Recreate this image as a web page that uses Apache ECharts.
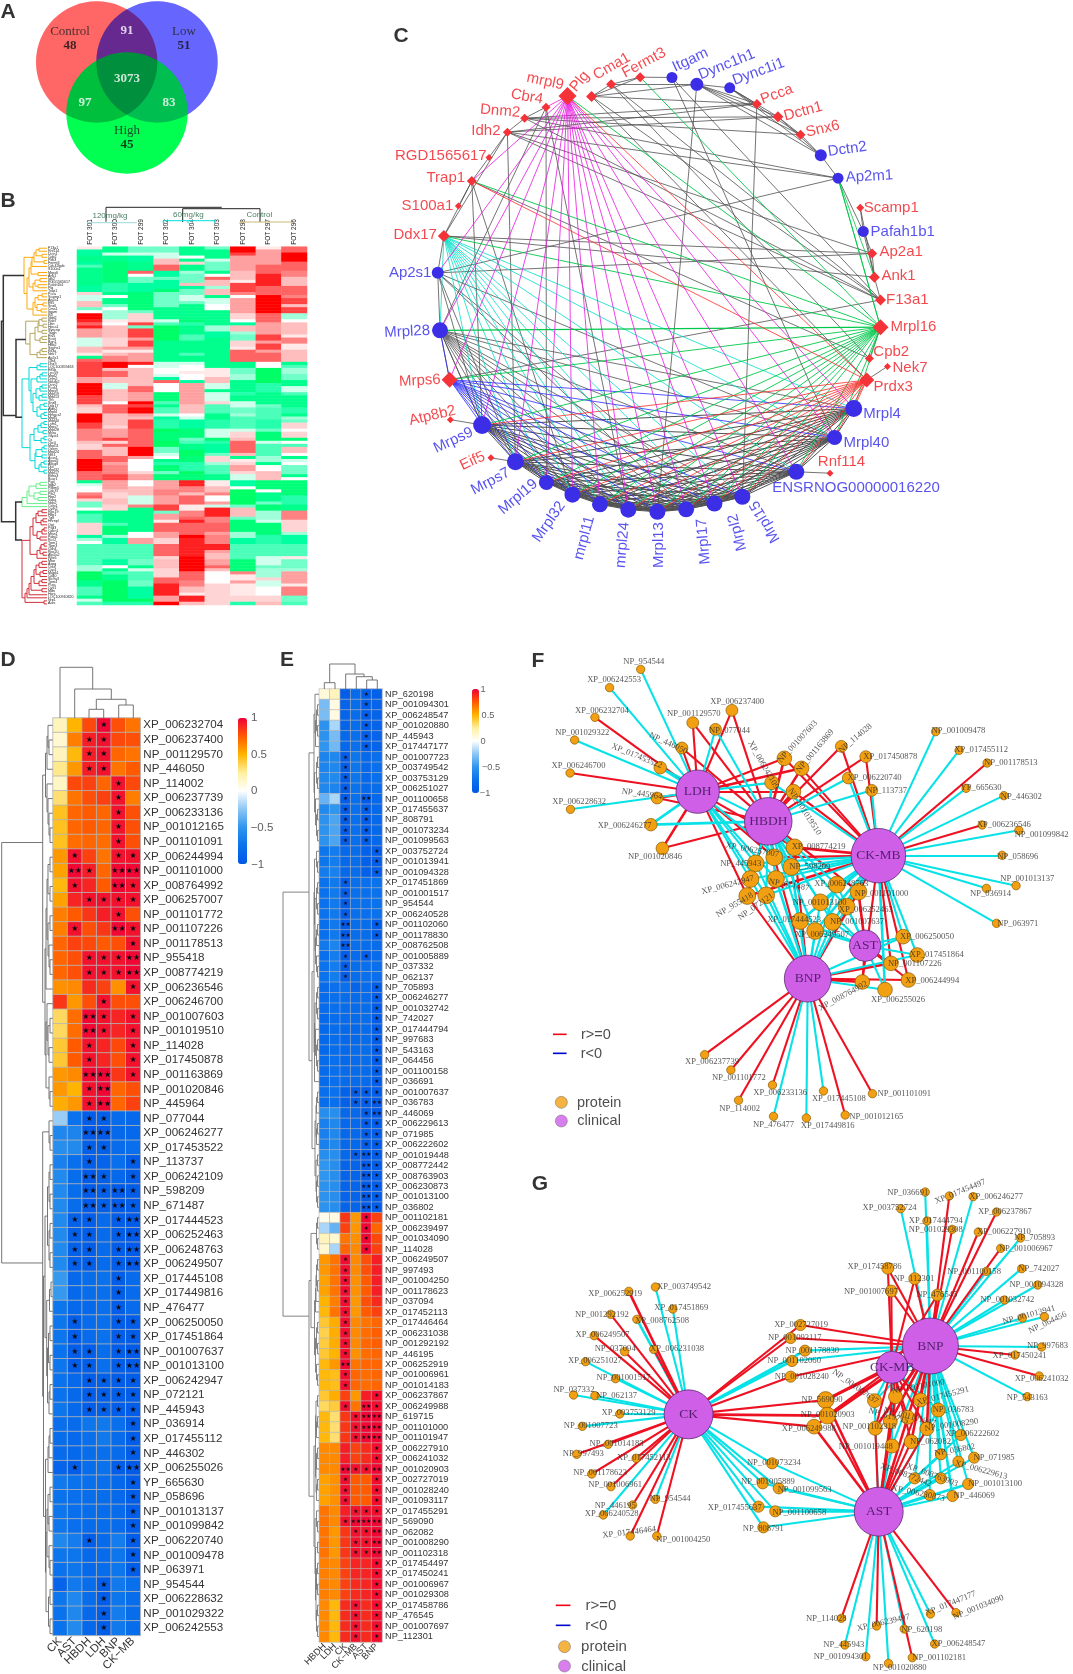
<!DOCTYPE html>
<html><head><meta charset="utf-8">
<script src="https://cdn.jsdelivr.net/npm/echarts@6/dist/echarts.min.js"></script>
<style>html,body{margin:0;padding:0;background:#fff}#c{width:1073px;height:1674px}</style></head>
<body><div id="c"></div>
<script>
/* ---------- PANEL A: Venn ---------- */
const vennNames=['Control','Low','High'];
const vennX=[96.7,157,127], vennY=[62,62,113], vennDiam=[121.4,121.4,121.4];
const vennBase=[['#ff8888',1],['#0000ff',.467],['#00ff50',1]];
const vennTint=[['#ffbfbf',0],['#bfbfff',1]];
const vennText=[['Control',70,32,13,'#222','normal'],['48',70,46,13,'#111','bold'],['91',127,31,13,'#fff','bold'],['Low',184,32,13,'#222','normal'],['51',184,46,13,'#111','bold'],['3073',127,79,13,'#fff','bold'],['97',85,103,13,'#fff','bold'],['83',169,103,13,'#fff','bold'],['High',127,131,13,'#222','normal'],['45',127,145,13,'#111','bold']];

/* ---------- PANEL B: expression heatmap, each column as [endRow,value] runs ---------- */
const bColumns=['FOT 301','FOT 300','FOT 299','FOT 302','FOT 304','FOT 303','FOT 298','FOT 297','FOT 296'];
const bGenes=['F13a1','Rnf114','Dctn1','Cpb2','Pdk3','Fermt3','Cdc42bpb','S100a1','Mrps6','Ank1','Idh2','RGD1565617','Pafah1b1','Plg','Trap1','Pcca','Scamp1','Ap2a1','Eif5','Snx6','Cma1','Itgam','Ik3','Ndd2','Rab7','Dbn','Hpca1','Syncrip','Tagln','Etv5','Ecsit','Bgn1','Hbb2','Sephs1','Kif3a','Nek7','Ap2s1','Cfb4','Dhx9','LOC100359463','Eif5b','Lrrc59','Mrpl2','Dnm2','Ndufb2','Dctn2','Pcsk1','Mrps9','Mrpl19','Mrpl13','Tfrc','Snx8','Ddx17','Aldh2','Mrpl4','Hmgcs2','Mrpl5','Mrpl40','Lsm1','Mrps7','Mrpl28','Msra','Glyat1','Cs','Cbr4','Mrpl11','Oxsm','Mrpl24','Nfs1','Acss1','Atpaf2','Abcg8','Dld','Mrpl32','Mrpl17','Elmo3','Bcar1','Pgd','Itgb2','Pdlim5','Cdc37','Ptk2','Fbp2','Vapa','Nop2','Csrp1','Cyth2','Rgs19','Fbp1','Tgif','Hnrnpl','Ogt','Psd3','Cdkn1','Mtss1','Pdrp2','Rcc2','Tpm1','Tpm3','Cdh4','Rps20','Atp2a2','Rps6','Mtor','Aspg','Ctsd','Cap1','Mapk1','Cd40','Slc9a3','Tpm4','Pura','Cytl1','Mdn','Hars','LOC100910820','Nrp1','Aars'];
const bC1=[[1,1],[3,-6],[5,-7],[6,-6],[7,-4],[13,-7],[15,-6],[16,2],[18,-1],[20,3],[21,-3],[22,0],[24,9],[25,8],[26,6],[27,8],[30,4],[33,-1],[35,3],[36,1],[37,-7],[38,6],[43,7],[45,4],[49,9],[52,7],[53,3],[55,2],[58,9],[60,7],[64,5],[65,3],[67,2],[70,6],[74,9],[77,6],[78,-7],[79,-1],[81,0],[82,5],[83,6],[84,2],[86,-3],[87,0],[88,-7],[91,-4],[95,2],[96,-6],[97,-2],[98,0],[105,-4],[107,-2],[110,-9],[112,-7],[115,-4],[116,-7],[117,-1],[118,-4]];
const bC2=[[2,-7],[3,-1],[5,-7],[12,-8],[15,-5],[16,-7],[17,0],[19,-7],[20,-3],[21,0],[24,-2],[25,1],[26,0],[30,3],[33,2],[34,4],[35,1],[36,3],[38,5],[40,9],[41,3],[43,6],[45,3],[47,-1],[49,3],[51,3],[52,0],[55,6],[56,3],[59,3],[60,2],[63,4],[64,7],[65,2],[66,6],[69,3],[71,6],[72,4],[75,5],[77,7],[80,4],[81,3],[83,2],[85,3],[87,2],[91,-7],[92,-4],[95,-8],[96,-2],[98,-6],[103,-4],[105,-6],[106,0],[107,-7],[108,-4],[110,-7],[117,-9],[118,-5]];
const bC3=[[2,-3],[3,-1],[5,-6],[8,-7],[9,6],[10,0],[12,-3],[15,-6],[21,-8],[22,-3],[25,2],[26,7],[27,-3],[30,7],[31,4],[33,7],[34,4],[35,1],[38,4],[39,8],[40,0],[44,3],[46,3],[48,6],[51,4],[52,9],[53,7],[55,9],[56,4],[57,3],[60,7],[66,6],[69,9],[70,4],[74,0],[75,2],[77,4],[79,0],[82,3],[85,-1],[86,5],[94,-7],[96,0],[98,4],[103,-4],[105,-3],[106,-7],[107,-1],[110,-4],[112,-3],[116,-6],[117,-9],[118,-5]];
const bC4=[[2,-3],[4,-1],[6,3],[8,6],[10,-6],[11,-3],[14,-6],[15,-8],[18,-3],[20,-3],[24,-7],[25,-1],[26,-4],[31,-9],[38,-7],[40,-1],[42,0],[43,-1],[44,-6],[45,6],[48,0],[51,-8],[52,-4],[53,-7],[55,-4],[56,-1],[57,-6],[60,-5],[61,-9],[64,-8],[66,-9],[68,-3],[69,-1],[70,0],[71,-7],[72,-5],[74,-8],[75,-3],[77,-8],[80,4],[82,5],[85,4],[87,7],[88,-3],[90,4],[91,1],[94,6],[96,4],[98,2],[102,6],[103,2],[106,3],[109,2],[111,6],[115,8],[117,4],[118,9]];
const bC5=[[3,-7],[4,0],[5,-7],[6,2],[8,-7],[9,-2],[12,-3],[13,3],[14,-6],[16,-3],[18,-1],[19,-3],[24,-7],[25,-8],[26,-5],[29,-7],[31,-4],[35,-7],[36,-4],[38,-7],[39,-1],[41,0],[42,1],[44,0],[45,-6],[52,4],[55,3],[56,0],[57,-1],[60,-6],[63,-8],[64,-3],[65,-4],[67,-7],[69,-9],[71,-8],[74,-5],[75,-9],[77,-8],[79,8],[81,5],[82,3],[85,6],[87,1],[89,5],[90,6],[91,8],[95,6],[96,9],[102,8],[107,9],[110,6],[112,5],[114,3],[115,1],[117,8],[118,3]];
const bC6=[[1,-3],[4,-7],[5,-1],[8,-3],[9,-7],[10,0],[11,6],[13,3],[14,-2],[16,3],[17,-7],[19,-1],[21,0],[26,-7],[28,-2],[30,-6],[40,-7],[43,1],[45,3],[47,-1],[48,-7],[51,-1],[52,2],[55,-4],[57,-7],[60,-5],[63,-1],[64,-8],[65,-5],[68,-6],[69,-3],[71,2],[72,-2],[75,-4],[77,-7],[79,1],[81,3],[82,5],[84,0],[85,4],[86,-1],[89,8],[91,5],[94,6],[95,4],[98,5],[100,8],[101,4],[103,3],[105,4],[106,6],[107,3],[111,0],[118,2]];
const bC7=[[2,9],[3,7],[8,4],[11,3],[12,1],[15,7],[16,5],[17,0],[22,4],[24,2],[25,0],[26,-6],[28,3],[29,-2],[31,-3],[33,2],[34,1],[38,6],[40,-7],[42,-3],[44,-2],[48,-7],[49,-5],[51,-7],[53,-1],[55,-3],[56,-2],[60,-4],[61,-1],[63,2],[64,3],[68,6],[69,3],[70,-7],[71,1],[72,2],[74,4],[75,2],[77,-1],[79,-6],[80,0],[85,-9],[86,-3],[89,3],[90,-3],[94,-8],[96,-2],[98,-6],[103,-4],[107,-8],[108,5],[110,1],[111,4],[115,1],[117,2],[118,-5]];
const bC8=[[1,1],[6,4],[9,6],[13,8],[16,6],[22,9],[25,6],[29,4],[31,7],[32,4],[34,7],[35,4],[38,6],[40,0],[45,-9],[48,-5],[52,-7],[53,-3],[57,-4],[60,-5],[61,-3],[64,-8],[65,-1],[69,-4],[71,-2],[72,-7],[74,0],[77,3],[80,-8],[81,0],[84,-7],[85,-3],[87,-8],[90,-2],[91,-1],[95,-8],[98,-5],[102,-4],[105,-1],[106,-3],[109,-2],[110,2],[112,-1],[115,0],[117,2],[118,3]];
const bC9=[[2,6],[5,9],[8,6],[10,5],[13,3],[16,6],[17,5],[19,7],[20,3],[22,7],[24,-2],[25,0],[29,3],[30,1],[32,5],[34,1],[38,3],[39,-7],[40,-4],[42,-2],[44,-3],[46,-7],[48,-1],[49,-4],[53,-7],[55,-5],[56,-7],[57,-2],[58,-3],[60,2],[61,0],[63,2],[64,-8],[65,0],[66,-4],[68,3],[69,0],[70,-7],[71,-1],[72,0],[75,-3],[76,-7],[77,0],[82,-8],[85,-5],[87,-7],[90,5],[91,2],[94,2],[95,-2],[98,-6],[102,-4],[103,1],[106,-3],[107,-2],[111,4],[112,1],[115,5],[117,-3],[118,-4]];
const bRuns=[bC1,bC2,bC3,bC4,bC5,bC6,bC7,bC8,bC9];
const bGroupText=[['120mg/kg',110,215.7],['60mg/kg',188.3,214.3],['Control',259.3,215]];

/* ---------- PANEL D ---------- */
const dCols=['CK','AST','HBDH','LDH','BNP','CK\u2212MB'];
const dRows=['XP_006232704','XP_006237400','NP_001129570','NP_446050','NP_114002','XP_006237739','XP_006233136','NP_001012165','NP_001101091','XP_006244994','NP_001101000','XP_008764992','XP_006257007','NP_001101772','NP_001107226','NP_001178513','NP_955418','XP_008774219','XP_006236546','XP_006246700','NP_001007603','NP_001019510','NP_114028','XP_017450878','NP_001163869','NP_001020846','NP_445964','NP_077044','XP_006246277','XP_017453522','NP_113737','XP_006242109','NP_598209','NP_671487','XP_017444523','XP_006252463','XP_006248763','XP_006249507','XP_017445108','XP_017449816','NP_476477','XP_006250050','XP_017451864','NP_001007637','NP_001013100','XP_006242947','NP_072121','NP_445943','NP_036914','XP_017455112','NP_446302','XP_006255026','YP_665630','NP_058696','NP_001013137','NP_001099842','XP_006220740','NP_001009478','NP_063971','NP_954544','XP_006228632','NP_001029322','XP_006242553'];
const dValues=[[18,50,80,98,78,68],[12,65,92,95,80,78],[18,48,92,95,72,68],[28,58,92,95,68,75],[15,80,82,72,95,80],[32,68,78,82,95,65],[45,72,75,72,95,78],[45,72,75,72,95,78],[45,70,72,70,95,78],[58,95,82,68,95,95],[55,98,92,72,98,98],[48,95,90,75,98,95],[55,90,95,95,95,95],[65,75,85,92,95,78],[65,95,78,85,98,95],[72,82,80,75,78,95],[72,78,95,95,95,98],[72,78,95,95,95,98],[60,62,88,82,60,95],[85,58,78,95,78,78],[35,70,98,95,90,95],[35,70,98,95,90,95],[42,75,95,90,80,95],[42,75,95,90,78,95],[58,62,98,98,85,95],[58,50,95,98,72,78],[52,58,95,98,72,82],
[-22,-75,-95,-92,-82,-85],[-60,-62,-98,-98,-85,-85],[-55,-58,-92,-92,-82,-78],[-65,-78,-95,-88,-78,-95],[-58,-80,-98,-92,-85,-95],[-58,-80,-98,-92,-98,-95],[-58,-80,-98,-92,-98,-95],[-58,-92,-95,-82,-95,-98],[-58,-92,-95,-82,-95,-98],[-58,-92,-95,-82,-95,-98],[-58,-92,-95,-82,-95,-98],[-48,-85,-80,-75,-95,-82],[-48,-85,-80,-78,-95,-82],[-72,-85,-85,-78,-95,-82],[-72,-95,-82,-78,-95,-95],[-72,-95,-82,-75,-95,-95],[-75,-95,-95,-80,-95,-98],[-72,-95,-95,-78,-95,-98],[-75,-85,-95,-92,-95,-95],[-75,-85,-95,-92,-95,-95],[-72,-85,-95,-92,-95,-95],[-78,-82,-72,-70,-78,-95],[-80,-85,-78,-70,-82,-95],[-82,-85,-80,-78,-82,-95],[-88,-95,-80,-75,-95,-98],[-70,-75,-78,-78,-85,-95],[-75,-78,-80,-80,-85,-95],[-72,-78,-80,-80,-82,-95],[-72,-78,-82,-80,-82,-95],[-60,-68,-95,-82,-68,-95],[-72,-72,-85,-82,-72,-95],[-75,-72,-85,-80,-72,-95],[-88,-70,-80,-95,-70,-78],[-72,-60,-80,-95,-72,-80],[-75,-60,-85,-95,-68,-80],[-75,-58,-85,-95,-70,-80]];
const dStars=['000100','001100','001100','001100','000010','000010','000010','000010','000010','010011','021022','010021','001111','000010','010021','000001','001112','001112','000001','000100','002101','002101','001001','001001','002201','001200','001200','001100','002200','001100','001001','002101','002121','002121','011012','011012','011012','011012','000010','000010','000010','010011','010011','011012','011012','001111','001111','001111','000001','000001','000001','010012','000001','000001','000001','000001','001001','000001','000001','000100','000100','000100','000100'];
const dColorbarText=[['1',254.3,718.3],['0.5',259,755],['0',254.3,791],['\u22120.5',262,828.3],['\u22121',257.7,865]];

/* ---------- PANEL E ---------- */
const eCols=['HBDH','LDH','CK','CK\u2212MB','AST','BNP'];
const eRows=['NP_620198','NP_001094301','XP_006248547','NP_001020880','NP_445943','XP_017447177','NP_001007723','XP_003749542','XP_003753129','XP_006251027','NP_001100658','XP_017455637','NP_808791','NP_001073234','NP_001099563','XP_003752724','NP_001013941','NP_001094328','XP_017451869','NP_001001517','NP_954544','XP_006240528','NP_001102060','NP_001178830','XP_008762508','NP_001005889','NP_037332','NP_062137','NP_705893','XP_006246277','NP_001032742','NP_742027','XP_017444794','NP_997683','NP_543163','NP_064456','NP_001100158','NP_036691','NP_001007637','NP_036783','NP_446069','XP_006229613','NP_071985','XP_006222602','NP_001019448','XP_008772442','XP_008763903','XP_006230873','NP_001013100','NP_036802','NP_001102181','XP_006239497','NP_001034090','NP_114028','XP_006249507','NP_997493','NP_001004250','NP_001178623','NP_037094','XP_017452113','XP_017446464','XP_006231038','NP_001292192','NP_446195','XP_006252919','NP_001006961','NP_001014183','XP_006237867','XP_006249988','NP_619715','NP_001101000','NP_001101947','XP_006227910','XP_006241032','NP_001020903','XP_002727019','NP_001028240','NP_001093117','XP_017455291','NP_569090','NP_062082','NP_001008290','NP_001102318','XP_017454497','XP_017450241','NP_001006967','NP_001029308','XP_017458786','NP_476545','NP_001007697','NP_112301'];
const eValues=[[10,18,-95,-82,-95,-92],[-30,8,-88,-80,-95,-88],[-30,8,-88,-80,-95,-88],[-52,-18,-88,-80,-95,-88],[-52,-30,-85,-78,-95,-88],[-50,-32,-85,-78,-95,-88],[-62,-60,-95,-72,-85,-78],[-62,-60,-95,-72,-85,-78],[-60,-58,-95,-72,-85,-78],[-60,-62,-95,-75,-85,-80],[-35,-18,-95,-78,-98,-85],[-58,-50,-95,-78,-95,-85],[-52,-42,-95,-78,-95,-85],[-52,-42,-95,-78,-95,-85],[-52,-42,-95,-78,-95,-85],[-72,-68,-85,-80,-92,-95],[-72,-68,-85,-80,-92,-95],[-68,-65,-85,-80,-92,-95],[-75,-70,-95,-78,-78,-75],[-75,-70,-95,-78,-78,-75],[-75,-70,-95,-78,-78,-75],[-75,-70,-95,-78,-78,-75],[-78,-70,-98,-80,-80,-95],[-78,-70,-98,-80,-80,-95],[-70,-62,-98,-78,-80,-80],[-78,-68,-95,-82,-95,-82],[-75,-68,-95,-80,-78,-78],[-75,-68,-95,-80,-78,-78],[-82,-78,-78,-88,-82,-95],[-82,-78,-80,-82,-82,-95],[-82,-78,-80,-82,-80,-95],[-84,-80,-82,-82,-80,-95],[-84,-80,-85,-85,-82,-95],[-84,-80,-85,-85,-82,-95],[-84,-80,-85,-82,-80,-95],[-82,-78,-85,-82,-80,-95],[-82,-78,-82,-82,-82,-95],[-82,-78,-82,-82,-82,-95],[-78,-75,-90,-95,-95,-95],[-80,-78,-92,-95,-95,-98],[-55,-55,-85,-85,-95,-98],[-65,-60,-85,-85,-95,-95],[-65,-60,-85,-85,-95,-95],[-65,-60,-85,-85,-95,-95],[-55,-55,-85,-95,-98,-95],[-50,-55,-88,-88,-98,-95],[-50,-55,-88,-88,-98,-95],[-52,-55,-88,-88,-98,-95],[-52,-55,-88,-88,-98,-95],[-52,-55,-88,-88,-98,-95],
[5,8,85,58,98,82],[-18,-35,82,58,98,72],[18,12,68,60,98,80],[12,-18,72,62,98,82],[58,68,96,62,78,92],[58,68,96,62,78,92],[55,68,96,60,75,92],[55,68,96,60,75,92],[50,65,96,58,78,88],[48,68,96,58,75,82],[42,52,96,62,68,72],[38,52,96,62,70,74],[40,52,96,62,72,74],[42,50,96,60,70,72],[48,58,98,68,72,72],[48,46,96,72,70,72],[48,46,96,72,70,72],[42,52,82,58,92,96],[35,40,96,68,98,96],[48,32,85,95,98,98],[48,32,85,95,98,98],[48,32,85,95,98,98],[62,62,92,82,88,96],[62,62,92,82,88,96],[62,62,98,95,95,98],[55,60,96,75,75,96],[55,60,96,75,75,96],[55,60,96,75,75,96],[68,62,92,95,95,96],[68,62,95,98,98,98],[68,58,85,95,95,98],[68,58,85,95,95,98],[68,58,85,95,95,98],[65,62,82,90,90,96],[65,62,82,90,90,96],[65,62,82,88,90,96],[65,62,82,88,90,96],[62,48,88,95,88,96],[62,48,88,95,88,96],[62,48,88,95,88,96],[62,48,88,95,88,96]];
const eStars=['000010','000010','000010','000010','000010','000010','001000','001000','001000','001000','001020','001010','001010','001010','001010','000001','000001','000001','001000','001000','001000','001000','002001','002001','002000','001010','001000','001000','000001','000001','000001','000001','000001','000001','000001','000001','000001','000001','000111','000112','000012','000011','000011','000011','000121','000021','000021','000021','000021','000021','000010','000010','000010','000010','001000','001000','001000','001000','001000','001000','001000','001000','001000','001000','002000','001000','001000','000001','001021','000122','000122','000122','000001','000001','002112','001001','001001','001001','000111','001222','000112','000112','000112','000001','000001','000001','000001','000101','000101','000101','000101'];
const eColorbarText=[['1',483,689],['0.5',488,715],['0',483,741],['\u22120.5',491,767],['\u22121',485,793]];

/* ---------- PANEL C: network, node = [name,X,Y,diameter,shape,kind], label = [name,X,Y,rot] in crop units ---------- */
const cNodes=[['mrpl9',516,213,18,'d','p'],['Plg',579,214,11,'d','p'],['Cma1',630,180,10,'d','p'],['Fermt3',706,160,10,'d','p'],['Itgam',789,161,11,'c','b'],['Dync1h1',854,180,13,'c','b'],['Dync1i1',940,190,11,'c','b'],['Pcca',1011,235,10,'d','p'],['Dctn1',1066,271,11,'d','p'],['Snx6',1125,321,10,'d','p'],['Dctn2',1178,379,12,'c','b'],['Ap2m1',1223,443,11,'c','b'],['Scamp1',1281,526,8,'d','p'],['Pafah1b1',1289,592,11,'c','b'],['Ap2a1',1312,654,10,'d','p'],['Ank1',1318,720,11,'d','p'],['F13a1',1334,784,11,'d','p'],['Mrpl16',1334,860,16,'d','p'],['Cpb2',1305,948,9,'d','p'],['Nek7',1352,970,7,'d','p'],['Prdx3',1298,1008,15,'d','p'],['Mrpl4',1264,1088,17,'c','b'],['Mrpl40',1214,1169,15,'c','b'],['ENSRNOG00000016220',1114,1265,16,'c','b'],['Rnf114',1202,1269,7,'d','p'],['Mrpl15',973,1335,16,'c','b'],['Mrpl2',900,1354,16,'c','b'],['Mrpl17',826,1370,16,'c','b'],['Mrpl13',751,1377,16,'c','b'],['mrpl24',675,1371,16,'c','b'],['mrpl11',601,1356,16,'c','b'],['Mrpl32',529,1329,16,'c','b'],['Mrpl19',461,1295,15,'c','b'],['Mrps7',380,1237,17,'c','b'],['Eif5',316,1226,7,'d','p'],['Mrps9',293,1134,18,'c','b'],['Atp8b2',210,1119,7,'d','p'],['Mrps6',208,1007,16,'d','p'],['Mrpl28',183,869,16,'c','b'],['Ap2s1',177,708,12,'c','b'],['Ddx17',193,605,12,'d','p'],['S100a1',231,521,7,'d','p'],['Trap1',266,451,10,'d','p'],['RGD1565617',311,385,7,'d','p'],['Idh2',359,314,9,'d','p'],['Dnm2',404,275,9,'d','p'],['Cbr4',460,244,9,'d','p']];
const cLabels=[['Plg',548,172,50],['Cma1',632,130,30],['Fermt3',716,120,28],['Itgam',837,112,25],['Dync1h1',932,125,22],['Dync1i1',1015,145,20],['Pcca',1063,208,20],['Dctn1',1132,256,15],['Snx6',1183,305,13],['Dctn2',1247,362,8],['Ap2m1',1305,438,3],['Scamp1',1362,526,0],['Pafah1b1',1392,593,0],['Ap2a1',1388,650,0],['Ank1',1381,716,0],['F13a1',1404,783,0],['Mrpl16',1420,860,0],['Cpb2',1362,930,0],['Nek7',1411,973,0],['Prdx3',1367,1027,0],['Mrpl4',1338,1102,0],['Mrpl40',1297,1183,0],['Rnf114',1232,1238,0],['ENSRNOG00000016220',1270,1311,0],['Mrpl15',1032,1405,120],['Mrpl2',960,1435,105],['Mrpl17',872,1460,95],['Mrpl13',755,1470,90],['mrpl24',660,1470,85],['mrpl11',560,1450,75],['Mrpl32',468,1405,55],['Mrpl19',387,1335,40],['Mrps7',315,1292,28],['Eif5',268,1235,25],['Mrps9',218,1177,25],['Atp8b2',163,1108,13],['Mrps6',130,1010,3],['Mrpl28',97,873,3],['Ap2s1',105,707,0],['Ddx17',118,603,0],['S100a1',150,520,0],['Trap1',198,443,0],['RGD1565617',185,381,0],['Idh2',303,310,0],['Dnm2',340,255,-5],['Cbr4',410,215,-10],['mrpl9',458,172,-12]];
const cBottom=['Mrps9','Mrps7','Mrpl19','Mrpl32','mrpl11','mrpl24','Mrpl13','Mrpl17','Mrpl2','Mrpl15','ENSRNOG00000016220','Mrpl40','Mrpl4'];
const cMagenta=cBottom.concat(['Mrpl28','Trap1','Ap2s1','Mrps6','Cbr4']);
const cCyan=cBottom.concat(['Mrpl28']);
const cGreen=cBottom.concat(['Mrps6','Mrpl28','Trap1','mrpl9','Fermt3','Ddx17','Ap2m1']);
const cRed=cBottom.concat(['Trap1','mrpl9']);
const cBlue=cBottom.concat(['Mrpl28']);
const cGrey=[['Plg','Cma1'],['Plg','Fermt3'],['Cma1','Fermt3'],['Fermt3','Itgam'],['Cma1','Dync1h1'],['Plg','Dync1h1'],['Dync1h1','Dync1i1'],['Dync1h1','Pcca'],['Dync1i1','Pcca'],['Dync1h1','Dctn1'],['Dync1i1','Dctn1'],['Dync1h1','Snx6'],['Dync1i1','Snx6'],['Dctn1','Snx6'],['Dctn1','Dctn2'],['Snx6','Dctn2'],['Dync1h1','Dctn2'],['Dync1i1','Dctn2'],['Dctn2','Ap2m1'],['Ap2m1','Pafah1b1'],['Scamp1','Pafah1b1'],['Scamp1','Ank1'],['Pafah1b1','Ank1'],['Ap2a1','Ank1'],['Ap2a1','Pafah1b1'],['Ank1','F13a1'],['Plg','Pcca'],['Plg','F13a1'],['Plg','Prdx3'],['Cma1','F13a1'],['Cma1','Cpb2'],['Itgam','F13a1'],['Itgam','Mrpl40'],['Dync1h1','Mrpl13'],['Pcca','Mrpl15'],['Dnm2','Dctn1'],['Dnm2','Pcca'],['Dnm2','Snx6'],['Idh2','Dctn1'],['Idh2','Pcca'],['Idh2','Mrps7'],['Cbr4','Mrpl19'],['Dnm2','Ap2m1'],['Dnm2','F13a1'],['Dnm2','Idh2'],['Idh2','Ap2m1'],['Idh2','Ap2a1'],['Idh2','F13a1'],['Idh2','Ddx17'],['Trap1','Idh2'],['Trap1','S100a1'],['Trap1','Ddx17'],['Trap1','Mrps9'],['Trap1','Cpb2'],['Trap1','Mrpl32'],['Ddx17','Ap2s1'],['Ddx17','Ap2a1'],['Ddx17','Ank1'],['Ap2s1','Mrpl28'],['Ap2s1','Ap2m1'],['Ap2s1','Ap2a1'],['Ap2s1','Mrps9'],['Ap2s1','Mrps7'],['Ap2s1','Mrpl2'],['Ap2s1','Mrpl40'],['Ap2s1','Mrpl17'],['Mrps6','F13a1'],['Prdx3','Nek7'],['Cpb2','Mrpl16'],['Mrps9','Atp8b2'],['Mrps7','Eif5'],['ENSRNOG00000016220','Rnf114'],['Mrpl28','Mrps6'],['Mrpl28','Mrps9'],['Cbr4','Dnm2'],['Cbr4','mrpl24'],['Cbr4','Mrpl28']];
const cFan=['Mrpl28'];

/* ---------- PANEL F: protein layout in crop units [name,X,Y,R,labelX,labelY,rot] ---------- */
const fClinical=[['LDH',494,455,62],['HBDH',696,544,68],['CK-MB',1011,647,78],['AST',973,917,45],['BNP',809,1016,67]];
const fProteins=[['NP_954544',331,88,12,340,66,0],['XP_006242553',242,143,12,255,119,0],['XP_006232704',200,232,12,220,211,0],['NP_001029322',142,300,12,164,278,0],['XP_006246700',129,399,12,153,377,0],['XP_006228632',130,508,12,155,486,0],['NP_446050',449,324,17,410,310,-25],['XP_017453522',387,383,18,320,348,-22],['NP_445964',378,474,17,335,462,-8],['XP_006246277',360,554,18,285,557,0],['NP_001020846',393,625,18,372,650,0],['NP_001129570',480,248,17,483,222,0],['XP_006237400',592,211,17,607,184,0],['NP_077044',545,268,17,585,271,0],['XP_006242109',706,428,20,682,375,-60],['NP_001007603',742,355,21,780,305,47],['NP_001163869',791,385,21,830,333,50],['NP_001019510',768,455,21,800,515,-57],['NP_114028',905,319,17,945,295,40],['XP_017450878',975,350,17,1045,350,0],['XP_006220740',925,414,17,1000,413,0],['NP_113737',992,451,17,1035,451,0],['NP_001009478',1175,275,12,1240,272,0],['XP_017455112',1242,331,12,1305,330,0],['NP_001178513',1322,369,12,1390,369,0],['YP_665630',1262,445,12,1305,443,0],['NP_446302',1370,467,12,1420,471,0],['XP_006236546',1308,555,12,1370,553,0],['NP_001099842',1413,571,12,1478,585,0],['NP_058696',1365,646,12,1410,649,0],['NP_001013137',1405,737,12,1437,715,0],['NP_036914',1320,745,12,1332,760,0],['NP_063971',1349,850,12,1410,851,0],['XP_008774219',771,622,24,840,620,0],['XP_006257007',713,652,24,650,630,-10],['NP_445943',660,670,24,617,672,0],['NP_598209',762,681,24,815,680,0],['XP_006242947',645,717,24,580,735,15],['NP_671487',718,717,24,755,735,-10],['NP_955418',636,768,24,600,795,30],['NP_072121',690,766,24,660,800,35],['XP_006248763',892,734,24,905,730,0],['NP_001101000',954,755,24,1020,760,0],['NP_001013100',845,787,24,843,787,0],['XP_006252463',920,800,24,975,809,0],['XP_017444523',787,843,24,770,838,0],['NP_001007637',880,846,24,950,846,0],['XP_006249507',830,873,24,850,883,0],['XP_006250050',1082,890,21,1150,890,0],['XP_017451864',1122,945,21,1178,943,0],['NP_001107226',1047,970,21,1115,972,0],['XP_006244994',1097,1020,21,1165,1022,0],['XP_008764992',965,1026,21,910,1068,28],['XP_006255026',1030,1049,21,1067,1080,0],['XP_006237739',514,1244,12,535,1265,0],['NP_001101772',589,1290,12,612,1314,0],['XP_006233136',708,1335,12,730,1358,0],['NP_114002',611,1381,12,614,1405,0],['NP_476477',711,1429,12,711,1453,0],['XP_017449816',805,1434,12,866,1457,0],['NP_001012165',916,1425,12,1005,1430,0],['XP_017445108',854,1353,12,898,1377,0],['NP_001101091',994,1361,12,1085,1361,0]];

/* ---------- PANEL G ---------- */
const gClinical=[['CK',468,763,70],['CK-MB',1050,622,46],['BNP',1160,558,80],['AST',1012,1055,70]];
const gProteins=[['NP_114028',905,1375,12,862,1377,0],['NP_445943',915,1455,12,912,1454,0],['NP_001094301',975,1490,12,903,1490,0],['XP_006239497',1006,1398,12,1025,1388,13],['NP_001020880',1040,1510,12,1072,1524,0],['NP_620198',1085,1407,12,1135,1409,0],['NP_001102181',1108,1493,12,1185,1494,0],['XP_006248547',1172,1452,12,1240,1452,0],['XP_017447177',1160,1362,12,1218,1330,22],['NP_001034090',1233,1358,12,1297,1342,22],['NP_001073234',707,910,16,712,908,0],['NP_001005889',680,970,16,695,965,0],['NP_001099563',726,985,16,800,990,0],['XP_017455637',668,1040,16,600,1042,0],['NP_001100658',716,1054,16,785,1057,0],['NP_808791',682,1102,16,682,1105,0],['XP_006252919',297,394,12,258,401,0],['XP_003749542',373,381,12,455,381,0],['NP_001292192',245,463,12,220,463,0],['XP_017451869',423,447,12,447,444,0],['XP_008762508',320,478,12,392,483,0],['XP_006249507',198,527,12,222,523,0],['NP_037094',285,575,12,258,566,0],['XP_006231038',368,568,12,435,566,0],['XP_006251027',173,605,12,200,602,0],['NP_001001517',259,656,12,282,653,0],['NP_037332',139,705,12,140,689,0],['NP_062137',200,707,12,262,708,0],['XP_003753129',271,762,12,296,758,0],['NP_001007723',164,799,12,188,796,0],['NP_001014183',238,853,12,262,850,0],['NP_997493',148,883,12,167,880,0],['XP_017452113',318,895,12,340,893,0],['NP_001178623',191,942,12,215,939,0],['NP_001006961',246,980,12,258,975,0],['NP_446195',308,1035,12,258,1037,0],['NP_954544',373,1018,12,415,1016,0],['XP_006240528',224,1065,12,248,1062,0],['XP_017446464',301,1128,12,298,1117,7],['NP_001004250',377,1128,12,453,1138,0],['XP_002727019',788,495,16,790,495,0],['NP_001093117',760,534,16,772,534,0],['NP_001178830',801,572,16,822,572,0],['NP_001102060',764,603,16,770,603,0],['NP_001028240',760,650,16,792,650,0],['NP_569090',860,720,24,850,718,0],['NP_001020903',865,767,24,866,765,0],['XP_006249988',827,800,21,812,805,0],['NP_036691',1145,96,12,1095,97,0],['XP_017454497',1214,108,12,1245,95,22],['XP_006246277',1282,110,12,1348,110,0],['XP_003752724',1075,146,12,1043,144,0],['XP_006237867',1349,156,12,1373,155,0],['XP_017444794',1150,183,12,1175,181,0],['NP_001029308',1222,208,12,1175,209,0],['XP_006227910',1297,216,12,1370,216,0],['NP_705893',1418,234,12,1458,234,0],['NP_001006967',1361,265,12,1433,267,0],['XP_017458786',1038,325,17,1000,321,0],['NP_112301',1115,356,17,1113,357,0],['NP_001100158',1320,334,12,1285,334,0],['NP_742027',1421,326,12,1470,327,0],['NP_001094328',1467,375,12,1463,375,0],['NP_001007697',1048,393,17,990,395,0],['NP_476545',1180,405,17,1178,403,0],['NP_001032742',1372,420,12,1380,420,0],['NP_001013941',1423,474,12,1442,465,15],['NP_064456',1486,470,12,1495,488,25],['NP_997683',1478,561,12,1495,557,0],['XP_017450241',1402,585,12,1415,588,0],['XP_006241032',1471,648,12,1478,655,0],['NP_543163',1437,710,12,1437,713,0],['NP_001007637',1000,722,20,945,680,-35],['NP_036783',1182,750,20,1225,750,0],['XP_017455291',1132,720,20,1195,708,15],['NP_001101000',1060,710,20,1125,680,10],['NP_619715',1045,785,20,1040,768,-15],['NP_001101947',1095,772,20,1100,770,-15],['NP_001102318',1002,805,20,985,800,0],['NP_001008290',1150,806,20,1220,795,8],['NP_001019448',1050,858,20,975,860,0],['NP_062082',1105,845,20,1160,845,0],['XP_006222602',1247,825,16,1280,820,0],['NP_036802',1190,883,16,1230,870,10],['XP_006229613',1240,905,16,1305,930,-15],['NP_071985',1285,893,16,1342,893,0],['XP_008772442',1115,955,16,1090,945,-20],['XP_008763903',1190,955,16,1165,945,-20],['NP_001013100',1268,972,16,1345,972,0],['XP_006230873',1158,1005,16,1125,1000,-12],['NP_446069',1223,1008,16,1285,1008,0]];

/* ---------- trees: [x, row1, row2, armEnd1, armEnd2] ---------- */
const L=47;
const treeBOrange=[[39,0,1,L,L],[42,2,3,L,L],[44,4,5,L,L],[36,.5,2.5,39,42],[34,1.5,4.5,36,44],[32,3,6,34,L],[38,8,9,L,L],[31,4.5,8.5,32,38],[40,10,11,L,L],[38,12,13,L,L],[35,10.5,12.5,40,38],[33,11.5,14,35,L],[29,6.5,12.75,31,33],[42,15,16,L,L],[38,15.5,17,42,L],[43,18,19,L,L],[41,20,21,L,L],[37,18.5,20.5,43,41],[35,16.25,19.5,38,37],[33,17.9,22,35,L],[27,9.75,20,29,33],[24,3,14.9,34,27]];
const treeBKhaki=[[42,23,24,L,L],[43,25,26,L,L],[39,23.5,25.5,42,43],[42,27,28,L,L],[38,24.5,27.5,39,42],[42,29,30,L,L],[40,29.5,31,42,L],[35,26,30.25,38,40],[42,33,34,L,L],[40,33.5,35,42,L],[37,34.25,36,40,L],[30,28,35,35,37],[25.7,24,31.5,39,30]];
const treeBCyan=[[40,38,39,L,L],[37,38.5,40,40,L],[42,41,42,L,L],[40,41.5,43,42,L],[37,42.25,44,40,L],[42,45,46,L,L],[40,45.5,47,42,L],[42,48,49,L,L],[39,48.5,50,42,L],[36,46.25,49.25,40,39],[44,51,52,L,L],[40,51.5,53,44,L],[44,54,55,L,L],[41,54.5,56,44,L],[37,52.25,55.25,40,41],[33,47.75,53.75,36,37],[31,43,50.75,37,33],[29,39.25,46.9,37,31],[44,57,58,L,L],[41,57.5,59,44,L],[43,60,61,L,L],[38,58.25,60.5,41,43],[44,62,63,L,L],[41,62.5,64,44,L],[34,59.4,63.25,38,41],[44,65,66,L,L],[42,65.5,67,44,L],[42,68,69,L,L],[36,66.25,68.5,42,42],[44,70,71,L,L],[41,70.5,72,44,L],[44,73,74,L,L],[39,71.25,73.5,41,44],[35,67.4,72.4,36,39],[30,61.3,69.9,34,35],[22,43,65.6,29,30]];
const treeBGreen=[[40,77,78,L,L],[36,77.5,79,40,L],[40,80,81,L,L],[38,82,83,L,L],[34,80.5,82.5,40,38],[29,78.25,81.5,36,34],[27,79.9,84,29,L],[22,82,85,27,L]];
const treeBRed=[[42,86,87,L,L],[38,86.5,88,42,L],[43,89,90,L,L],[41,89.5,91,43,L],[36,87.25,90.25,38,41],[44,92,93,L,L],[42,92.5,94,44,L],[40,95,96,L,L],[37,93.25,95.5,42,40],[33,88.75,94.4,36,37],[44,97,98,L,L],[41,97.5,99,44,L],[43,100,101,L,L],[40,98.25,100.5,41,43],[37,99.4,102,40,L],[30,91.6,100.7,33,37],[42,103,104,L,L],[39,103.5,105,42,L],[43,106,107,L,L],[40,106.5,108,43,L],[36,104.25,107.25,39,40],[42,109,110,L,L],[39,109.5,111,42,L],[34,105.75,110.25,36,39],[42,112,113,L,L],[31,108,112.5,34,42],[29,110.25,114,31,L],[27,112,115,29,L],[44,116,117,L,L],[25,113.5,116.5,27,44],[22,96.1,115,30,25]];
const treeBRoot=[[3.3,9,55,24,16],[16,30,55.6,25.7,22],[15.7,83.5,96,22,22],[1.5,24,90,3.3,15.7]];
const D0=52.7;
const treeD=[[1.7,8,36.7,42.7,42.7],[49,1,2,D0,D0],[48,0,1.5,D0,49],[47,.75,3,48,D0],[50,7,8,D0,D0],[49,6,7.5,D0,50],[48,5,6.75,D0,49],[47,4,5.9,D0,48],[45.5,1.9,4.9,47,47],[50,9,10,D0,D0],[50,11,12,D0,D0],[48,9.5,11.5,50,50],[50,13,14,D0,D0],[50,16,17,D0,D0],[49,15,16.5,D0,50],[48,13.5,15.75,50,49],[47,10.5,14.6,48,48],[46,12.5,18,47,D0],[50,20,21,D0,D0],[49,22,23,D0,D0],[48,20.5,22.5,50,49],[47,19,21.5,D0,48],[50,25,26,D0,D0],[49,24,25.5,D0,50],[46,20.25,24.75,47,49],[45,15.25,22.5,46,46],[42.7,3.4,18.9,45.5,45],[50,28,29,D0,D0],[49,27,28.5,D0,50],[50,30,31,D0,D0],[50,32,33,D0,D0],[49,30.5,32.5,50,50],[50,34,35,D0,D0],[50,36,37,D0,D0],[49,34.5,36.5,50,50],[47.5,31.5,35.5,49,49],[51,38,39,D0,D0],[49.5,38.5,40,51,D0],[50,41,42,D0,D0],[50,43,44,D0,D0],[48.5,41.5,43.5,50,50],[50,45,46,D0,D0],[49,45.5,47,50,D0],[47.5,42.5,46.25,48.5,49],[46.7,39.25,44.4,49.5,47.5],[45,33.5,41.8,47.5,46.7],[50,48,49,D0,D0],[49,48.5,50,50,D0],[48,49.25,51,49,D0],[50,52,53,D0,D0],[49,54,55,D0,D0],[48,52.5,54.5,50,49],[50,57,58,D0,D0],[49,56,57.5,D0,50],[47,53.5,56.75,48,49],[50,59,60,D0,D0],[50,61,62,D0,D0],[48.5,59.5,61.5,50,50],[46,55.1,60.5,47,48.5],[45.5,50.1,57.8,48,46],[43.5,37.6,54,45,45.5],[42.7,27.75,45.8,49,43.5]];
const E0=319;
const treeE=[[283,18.9,59.4,309,309],[317.5,1,2,E0,E0],[317.5,3,4,E0,E0],[316.5,1.5,3.5,317.5,317.5],[315.5,2.5,5,316.5,E0],[315,0,3.75,E0,315.5],[317.5,6,7,E0,E0],[317.5,8,9,E0,E0],[316.5,6.5,8.5,317.5,317.5],[317.5,11,12,E0,E0],[317.5,13,14,E0,E0],[316.5,11.5,13.5,317.5,317.5],[315.5,10,12.5,E0,316.5],[314.5,7.5,11.25,316.5,315.5],[314,1.9,9.4,315,314.5],[317.5,16,17,E0,E0],[316.5,15,16.5,E0,317.5],[317.5,18,19,E0,E0],[317.5,20,21,E0,E0],[316.5,18.5,20.5,317.5,317.5],[317.5,22,23,E0,E0],[316.5,22.5,24,317.5,E0],[317.5,26,27,E0,E0],[316.5,25,26.5,E0,317.5],[315.5,23.25,25.75,316.5,316.5],[315,19.5,24.5,316.5,315.5],[314.5,15.75,22,316.5,315],[317.5,28,29,E0,E0],[317.5,30,31,E0,E0],[316.5,28.5,30.5,317.5,317.5],[317.5,33,34,E0,E0],[317.5,35,36,E0,E0],[316.5,33.5,35.5,317.5,317.5],[315.5,32,34.5,E0,316.5],[315,29.5,33.25,316.5,315.5],[314.5,31.4,37,315,E0],[314,18.9,34.2,314.5,314.5],[317.5,38,39,E0,E0],[316.5,38.5,40,317.5,E0],[317.5,41,42,E0,E0],[316.5,41.5,43,317.5,E0],[316,39.25,42.25,316.5,316.5],[317.5,44,45,E0,E0],[317.5,46,47,E0,E0],[317.5,48,49,E0,E0],[316.5,46.5,48.5,317.5,317.5],[316,44.5,47.5,317.5,316.5],[315,40.75,46,316,316],[312,26.5,43.4,314,315],[309,5.6,35,314,312],
[317.5,50,51,E0,E0],[317.5,52,53,E0,E0],[316.5,50.5,52.5,317.5,317.5],[317.5,54,55,E0,E0],[317.5,56,57,E0,E0],[316.5,54.5,56.5,317.5,317.5],[316,55.5,58,316.5,E0],[315.5,56.75,59,316,E0],[317.5,60,61,E0,E0],[317.5,62,63,E0,E0],[316.5,60.5,62.5,317.5,317.5],[317.5,65,66,E0,E0],[316.5,64,65.5,E0,317.5],[315.5,61.5,64.75,316.5,316.5],[314.5,57.9,63.1,315.5,315.5],[311,51.5,60.5,316.5,314.5],[317.5,67,68,E0,E0],[317.5,69,70,E0,E0],[316.5,69.5,71,317.5,E0],[316,67.5,70.25,317.5,316.5],[317.5,72,73,E0,E0],[316.5,72.5,74,317.5,E0],[317.5,75,76,E0,E0],[316.5,75.5,77,317.5,E0],[316,73.25,76.25,316.5,316.5],[315.5,68.9,74.75,316,316],[317.5,79,80,E0,E0],[316.5,78,79.5,E0,317.5],[317.5,81,82,E0,E0],[317.5,83,84,E0,E0],[317.5,85,86,E0,E0],[316.5,83.5,85.5,317.5,317.5],[317.5,87,88,E0,E0],[317.5,89,90,E0,E0],[316.5,87.5,89.5,317.5,317.5],[316,84.5,88.5,316.5,316.5],[315.5,81.5,86.5,317.5,316],[315,78.75,84,316.5,315.5],[314,71.8,81.4,315.5,315],[309,56,76.6,311,314]];
/* top trees: polylines as full-page points */
const topB=[[[[106,221.7],[106,207.3],[221.7,207.3]],'#222',1],[[[182.7,222],[182.7,208.7],[260,208.7],[260,222]],'#222',1],[[[86.7,222.7],[136.7,222.7]],'#9adada',1],[[[163.3,223.3],[163.3,220.7],[215,220.7],[215,223.3]],'#00e0e0',1],[[[188,220.7],[188,223.3]],'#00e0e0',1],[[[240,224],[240,222],[291.7,222],[291.7,224]],'#c8b878',1]];
const topD=[[[60,718],[60,667.3],[92.7,667.3],[92.7,689]],[[74.7,718],[74.7,689],[111.3,689],[111.3,699.3]],[[96.3,709.3],[96.3,699.3],[126,699.3],[126,705]],[[89,718],[89,709.3],[103.7,709.3],[103.7,718]],[[118.7,718],[118.7,705],[133.3,705],[133.3,718]]];
const topE=[[[324.3,689],[324.3,682.7],[335,682.7],[335,689]],[[329.7,682.7],[329.7,664],[355,664],[355,674]],[[345.7,689],[345.7,674],[364,674],[364,676.7]],[[356.3,689],[356.3,676.7],[372.3,676.7],[372.3,680]],[[366.7,689],[366.7,680],[377.3,680],[377.3,689]]];

/* page texts */
const panelLetters=[['A',8,12],['B',8,201],['C',401,36],['D',8,660],['E',287,660],['F',538,661],['G',540,1184]];
const legendF=[[80,119,1183,'#f00010'],[80,119,1240,'#0000cc']], legendG=[[88,130,1336,'#f00010'],[88,130,1396,'#0000cc']];

/* ---------- helpers ---------- */
const W=1073,H=1674;
const fx=X=>525+X/2.861, fy=Y=>640+Y/3, gy=Y=>1160+Y/3;
const cx=X=>370+X/2.613, cy=Y=>20+Y/2.8;
const rowB=r=>246.7+3.04*(r+.5), rowD=r=>718+14.65*(r+.5), rowE=r=>689+10.47*(r+.5);
function bracketLines(tree,rowY,color,width){return tree.map(b=>({coords:[[b[3],rowY(b[1])],[b[0],rowY(b[1])],[b[0],rowY(b[2])],[b[4],rowY(b[2])]],lineStyle:{color,width}}));}
function textSeries(items,base,z){return {type:'scatter',xAxisIndex:0,yAxisIndex:0,symbolSize:1,itemStyle:{color:'rgba(0,0,0,0)'},silent:true,z:z||30,progressive:0,animation:false,
 label:Object.assign({show:true,position:'inside',formatter:'{b}',align:'center',verticalAlign:'middle'},base),labelLayout:{hideOverlap:false},
 data:items.map(t=>({name:t.t,value:[t.x,t.y],label:Object.assign({rotate:t.r||0},t.style||{})}))};}
const heatColors=['#0058e8','#0a72ec','#2f95ee','#8cc6f4','#ffffff','#fff0a0','#ffb400','#ff5a00','#f00038'];
const bColors=['#00ff66','#00ffa0','#70ffc8','#ffffff','#ffbebe','#ff6464','#ff0000'];
function heatData(values,stars){const out=[];values.forEach((row,y)=>row.forEach((v,x)=>{const n=stars?+stars[y][x]:0;const d={value:[x,y,v/100],stars:n};if(n)d.label={show:true};out.push(d);}));return out;}
const bData=[];bRuns.forEach((runs,c)=>{let s=0;runs.forEach(([e,v])=>{for(let r=s;r<e;r++)bData.push({value:[c,r,v/9]});s=e;});});

function network(clinical,proteins,rows,cols,stars,values,toY){
 const nodes=[];
 proteins.forEach(p=>{nodes.push({name:p[0],value:[fx(p[1]),toY(p[2])],symbolSize:2*p[3]/2.861,symbol:'circle',itemStyle:{color:'#f2a012',borderColor:'#8a5a00',borderWidth:.7}});});
 clinical.forEach(c=>{nodes.push({name:c[0],value:[fx(c[1]),toY(c[2])],symbolSize:2*c[3]/2.861,symbol:'circle',itemStyle:{color:'#d05fe8',borderColor:'#5a2a70',borderWidth:.8}});});
 const known=new Set(nodes.map(n=>n.name));
 const links=[];
 rows.forEach((name,i)=>{for(let j=0;j<cols.length;j++){const n=+stars[i][j];if(!n)continue;const t=cols[j].replace('\u2212','-');if(!known.has(name)||!known.has(t))continue;
   links.push({source:name,target:t,lineStyle:{color:values[i][j]>0?'#ee1122':'#08e2e6',width:n>1?2.6:2.1,opacity:1,curveness:0}});}});
 return {type:'graph',coordinateSystem:'cartesian2d',xAxisIndex:0,yAxisIndex:0,layout:'none',roam:false,silent:true,animation:false,z:5,edgeSymbol:['none','none'],data:nodes,links,label:{show:false},emphasis:{disabled:true}};
}

/* C network */
const cEdges=[];
const addE=(a,b,color,w)=>cEdges.push({source:a,target:b,lineStyle:{color,width:w||.8,opacity:1,curveness:0}});
const cGreyCol='#505050';
cGrey.forEach(e=>addE(e[0],e[1],cGreyCol));
for(let i=0;i<cBottom.length;i++)for(let j=i+1;j<cBottom.length;j++)addE(cBottom[i],cBottom[j],cGreyCol,1);
cFan.forEach(a=>cBottom.forEach(b=>addE(a,b,cGreyCol)));
cCyan.forEach(t=>addE('Ddx17',t,'#00e0c8'));
cBlue.forEach(t=>addE('Mrps6',t,'#2a2aff'));
cGreen.forEach(t=>addE('Mrpl16',t,'#00c84a',t==='Mrpl28'?1.3:.9));
cRed.forEach(t=>addE('Prdx3',t,'#ff2a2a'));
cMagenta.forEach(t=>addE('mrpl9',t,'#e814e0'));
[['Ap2m1','Ank1'],['Ap2m1','Mrpl16']].forEach(e=>addE(e[0],e[1],'#00c84a'));
const cGraph={type:'graph',coordinateSystem:'cartesian2d',xAxisIndex:0,yAxisIndex:0,layout:'none',roam:false,silent:true,animation:false,z:5,edgeSymbol:['none','none'],emphasis:{disabled:true},label:{show:false},
 data:cNodes.map(n=>({name:n[0],value:[cx(n[1]),cy(n[2])],symbol:n[4]==='d'?'diamond':'circle',symbolSize:n[3],itemStyle:{color:n[5]==='p'?'#f53238':'#3c2ee6',opacity:1}})),links:cEdges};
const kindOf={};cNodes.forEach(n=>kindOf[n[0]]=n[5]);

/* text */
const cText=cLabels.map(l=>({t:l[0],x:cx(l[1]),y:cy(l[2]),r:l[3],style:{color:kindOf[l[0]]==='p'?'#f01c22':'#3028e8'}}));
const netText=(list,toY)=>list.map(p=>({t:p[0],x:fx(p[4]),y:toY(p[5]),r:p[6]}));
const clinText=(list,toY)=>list.map(c=>({t:c[0],x:fx(c[1]),y:toY(c[2])}));
const serif="'Liberation Serif'",sans="'Liberation Sans'";

/* line series */
const lineData=[].concat(
 bracketLines(treeBOrange,rowB,'#ffa90a',1),bracketLines(treeBKhaki,rowB,'#b5a55a',1),bracketLines(treeBCyan,rowB,'#00d8d8',1),bracketLines(treeBGreen,rowB,'#66ee88',1),bracketLines(treeBRed,rowB,'#d03038',1),bracketLines(treeBRoot,rowB,'#333',1.5),
 bracketLines(treeD,rowD,'#666',.9),bracketLines(treeE,rowE,'#777',.9),
 topB.map(t=>({coords:t[0],lineStyle:{color:t[1],width:t[2]}})),
 topD.map(t=>({coords:t,lineStyle:{color:'#666',width:.9}})),
 topE.map(t=>({coords:t,lineStyle:{color:'#666',width:.9}})),
 legendF.map(l=>({coords:[[fx(l[0]),fy(l[2])],[fx(l[1]),fy(l[2])]],lineStyle:{color:l[3],width:1.6}})),
 legendG.map(l=>({coords:[[fx(l[0]),gy(l[2])],[fx(l[1]),gy(l[2])]],lineStyle:{color:l[3],width:1.6}}))
);

const hidden={show:false,type:'value'};
const chart=echarts.init(document.getElementById('c'),null,{renderer:'canvas',width:W,height:H});
chart.setOption({
 animation:false,backgroundColor:'#fff',
 grid:[{left:0,top:0,width:W,height:H},{left:77,top:246.7,width:230,height:358.3},{left:53,top:718,width:87.3,height:922.7},{left:319.3,top:689,width:62.7,height:953}],
 xAxis:[
  Object.assign({},hidden,{gridIndex:0,min:0,max:W}),
  {type:'category',gridIndex:1,data:bColumns,position:'top',axisLine:{show:false},axisTick:{show:false},splitLine:{show:false},axisLabel:{interval:0,rotate:-90,fontSize:6.5,color:'#222',margin:2,fontFamily:sans}},
  {type:'category',gridIndex:2,data:dCols,position:'bottom',axisLine:{show:false},axisTick:{show:false},axisLabel:{interval:0,rotate:45,fontSize:11.5,color:'#333',margin:4,fontFamily:sans}},
  {type:'category',gridIndex:3,data:eCols,position:'bottom',axisLine:{show:false},axisTick:{show:false},axisLabel:{interval:0,rotate:45,fontSize:9.2,color:'#333',margin:3,fontFamily:sans}}
 ],
 yAxis:[
  Object.assign({},hidden,{gridIndex:0,min:0,max:H,inverse:true}),
  {type:'category',gridIndex:1,data:bGenes,inverse:true,position:'left',axisLine:{show:false},axisTick:{show:false},axisLabel:{interval:0,fontSize:3.6,color:'#222',align:'left',margin:29,fontFamily:sans}},
  {type:'category',gridIndex:2,data:dRows,inverse:true,position:'right',axisLine:{show:false},axisTick:{show:false},axisLabel:{interval:0,fontSize:11.6,color:'#333',margin:3,fontFamily:sans}},
  {type:'category',gridIndex:3,data:eRows,inverse:true,position:'right',axisLine:{show:false},axisTick:{show:false},axisLabel:{interval:0,fontSize:9.2,color:'#333',margin:3,fontFamily:sans}}
 ],
 visualMap:[
  {type:'continuous',seriesIndex:0,show:false,min:-1,max:1,dimension:2,inRange:{color:bColors}},
  {type:'continuous',seriesIndex:1,show:true,min:-1,max:1,dimension:2,left:238,top:718,padding:0,itemWidth:9,itemHeight:146,text:null,calculable:false,hoverLink:false,showLabel:false,inRange:{color:heatColors}},
  {type:'continuous',seriesIndex:2,show:true,min:-1,max:1,dimension:2,left:472,top:689,padding:0,itemWidth:7,itemHeight:104,text:null,calculable:false,hoverLink:false,showLabel:false,inRange:{color:heatColors}}
 ],
 series:[
  {type:'heatmap',xAxisIndex:1,yAxisIndex:1,data:bData,progressive:0,silent:true,emphasis:{disabled:true}},
  {type:'heatmap',xAxisIndex:2,yAxisIndex:2,data:heatData(dValues,dStars),progressive:0,silent:true,emphasis:{disabled:true},itemStyle:{borderColor:'#b5b5b5',borderWidth:.8},
   label:{show:false,formatter:p=>'\u2605'.repeat(p.data.stars),fontSize:8,color:'#0a0a14',fontFamily:"'DejaVu Sans'"}},
  {type:'heatmap',xAxisIndex:3,yAxisIndex:3,data:heatData(eValues,eStars),progressive:0,silent:true,emphasis:{disabled:true},itemStyle:{borderColor:'#b5b5b5',borderWidth:.6},
   label:{show:false,formatter:p=>'\u2605'.repeat(p.data.stars),fontSize:5.6,color:'#0a0a14',fontFamily:"'DejaVu Sans'"}},
  {type:'scatter',xAxisIndex:0,yAxisIndex:0,silent:true,z:3,progressive:0,
   data:vennNames.map((n,i)=>({name:n,value:[vennX[i],vennY[i]],symbolSize:vennDiam[i],itemStyle:{color:vennBase[i][0],opacity:vennBase[i][1]}}))},
  {type:'scatter',xAxisIndex:0,yAxisIndex:0,silent:true,blendMode:'multiply',z:3,progressive:0,
   data:vennTint.map(v=>({value:[vennX[v[1]],vennY[v[1]]],symbolSize:vennDiam[v[1]],itemStyle:{color:v[0],opacity:1}}))},
  {type:'lines',coordinateSystem:'cartesian2d',xAxisIndex:0,yAxisIndex:0,polyline:true,silent:true,z:4,progressive:0,animation:false,data:lineData,lineStyle:{opacity:1}},
  cGraph,
  network(fClinical,fProteins,dRows,dCols,dStars,dValues,fy),
  network(gClinical,gProteins,eRows,eCols,eStars,eValues,gy),
  {type:'scatter',xAxisIndex:0,yAxisIndex:0,silent:true,z:6,progressive:0,symbolSize:12,itemStyle:{borderColor:'#666',borderWidth:.6},
   data:[{value:[fx(104),fy(1387)],itemStyle:{color:'#f2a012'}},{value:[fx(104),fy(1443)],itemStyle:{color:'#d05fe8'}},{value:[fx(113),gy(1460)],itemStyle:{color:'#f2a012'}},{value:[fx(113),gy(1518)],itemStyle:{color:'#d05fe8'}}]},
  textSeries(vennText.map(v=>({t:v[0],x:v[1],y:v[2],style:{fontSize:v[3],color:v[4],fontWeight:v[5]}})),{fontFamily:serif}),
  textSeries(panelLetters.map(p=>({t:p[0],x:p[1],y:p[2]})),{fontFamily:sans,fontWeight:'bold',fontSize:21,color:'#000'}),
  textSeries(bGroupText.map(b=>({t:b[0],x:b[1],y:b[2]})),{fontFamily:sans,fontSize:8,color:'#1a5a3a'}),
  textSeries(dColorbarText.map(b=>({t:b[0],x:b[1],y:b[2]})),{fontFamily:sans,fontSize:11.5,color:'#333'}),
  textSeries(eColorbarText.map(b=>({t:b[0],x:b[1],y:b[2]})),{fontFamily:sans,fontSize:9.2,color:'#333'}),
  textSeries(cText,{fontFamily:sans,fontSize:15}),
  textSeries(netText(fProteins,fy),{fontFamily:serif,fontSize:8.6,color:'#2a2a2a'}),
  textSeries(netText(gProteins,gy),{fontFamily:serif,fontSize:8.6,color:'#2a2a2a'}),
  textSeries(clinText(fClinical,fy),{fontFamily:serif,fontSize:13.5,color:'#33104f'}),
  textSeries(clinText(gClinical,gy),{fontFamily:serif,fontSize:13.5,color:'#33104f'}),
  textSeries([{t:'r>=0',x:fx(203),y:fy(1185)},{t:'r<0',x:fx(190),y:fy(1242)},{t:'protein',x:fx(212),y:fy(1388)},{t:'clinical',x:fx(212),y:fy(1444)}],{fontFamily:sans,fontSize:14.5,color:'#222'}),
  textSeries([{t:'r>=0',x:fx(217),y:gy(1338)},{t:'r<0',x:fx(204),y:gy(1397)},{t:'protein',x:fx(226),y:gy(1462)},{t:'clinical',x:fx(225),y:gy(1520)}],{fontFamily:sans,fontSize:15,color:'#222'})
 ]
});
</script></body></html>
